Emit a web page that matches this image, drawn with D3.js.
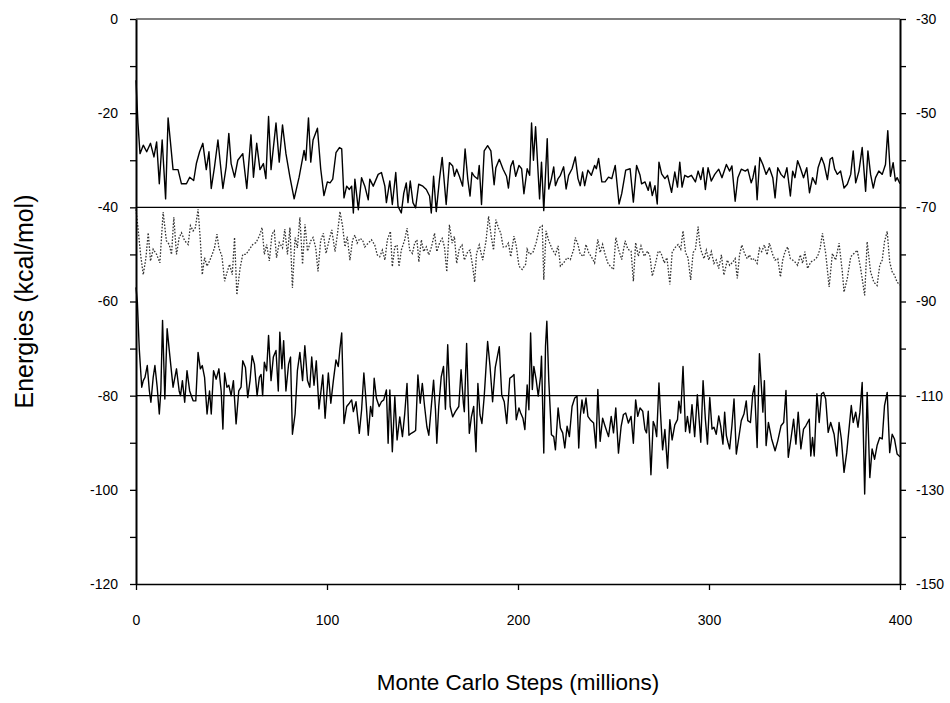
<!DOCTYPE html>
<html>
<head>
<meta charset="utf-8">
<script src="https://cdn.jsdelivr.net/npm/d3@7"></script>
<style>
  html, body { margin: 0; padding: 0; background: #fff; }
  svg { display: block; font-family: "Liberation Sans", Arial, sans-serif; }
</style>
</head>
<body>
<svg id="chart" width="950" height="703"></svg>
<script>
// [step (millions), energy (kcal/mol)]
const upperTrace = [
  [0,-13],[1,-22],[2.1,-28.6],[3.8,-26.8],[5.6,-28.2],[7.6,-26.4],[9.4,-29.3],[10.8,-26.1],[12.2,-35],[13.7,-25.7],
  [15.5,-38.2],[16.8,-21],[18,-26],[19.4,-32],[22,-32],[23.8,-35],[26.4,-35],[28.1,-33.6],[30.2,-34.3],[31.6,-30.7],
  [33.3,-28.2],[35,-26.4],[36.8,-32],[38.2,-28.2],[39.4,-36],[41.1,-31.4],[42.9,-25.7],[45.5,-36],[47.2,-31.4],[48.6,-24.3],
  [49.8,-30.7],[51.6,-33.6],[53.3,-30],[55.9,-28.6],[58,-36],[60.2,-24.6],[61.5,-33.6],[63.2,-26.4],[64.9,-32],[66.7,-30.7],
  [68,-33.9],[69.4,-20.7],[70.7,-32],[73.3,-22.1],[75,-30.4],[76.7,-22.5],[78.5,-28.6],[80.6,-33.6],[82.8,-38.2],[85.4,-33.6],
  [88,-27.9],[88.9,-30],[90.3,-21],[91.5,-30.4],[92.7,-25.7],[95,-23.2],[96.7,-31.8],[98.4,-37.5],[100.2,-34.6],[101.6,-34.8],
  [103,-34],[104.7,-28.4],[106.5,-27.3],[107.7,-27.6],[108.9,-38],[110.3,-35.5],[111.7,-36.2],[112.9,-35.5],[113.8,-41.2],[114.6,-34],
  [116.4,-40.5],[118.1,-33.7],[119.8,-35.5],[121.6,-38.4],[122.4,-34],[124.2,-35.5],[126.8,-33],[128.5,-32.6],[130.3,-35.5],[131.1,-39],
  [132.9,-34.4],[134.2,-39.4],[136,-32.6],[137.2,-39.8],[138.9,-41.2],[140.2,-37],[141.5,-34.8],[142.4,-39],[143.6,-34.4],[145,-39],
  [146.4,-40.1],[148,-35.1],[150.2,-35.5],[152,-36.2],[153.7,-37.6],[154.6,-41.2],[155.8,-33.4],[157.2,-40.9],[158.9,-34],[160.3,-29.4],
  [162.4,-39.4],[164.1,-30.5],[165.8,-31.2],[166.7,-33.4],[167.9,-31.9],[169.3,-33.4],[171,-35.5],[172.3,-27.6],[173.7,-34],[174.9,-37.6],
  [175.9,-32.6],[177.1,-33.4],[178.9,-34],[179.7,-31.1],[180.9,-39.4],[182.3,-28],[184.1,-26.9],[185.8,-28],[187.5,-35.2],[188.4,-31.6],
  [190.2,-29.8],[192.2,-31.9],[194,-33.4],[195,-35.9],[196.2,-31.3],[197.4,-30.1],[198.8,-33.4],[200.5,-31.1],[201.9,-31.8],[203.1,-37.1],
  [204.8,-31.8],[206.1,-33.2],[207.1,-22.1],[208.1,-30],[209.2,-22.9],[210.6,-33.2],[211.3,-38.2],[212.3,-30.4],[213.5,-40.7],[215.3,-25.4],
  [216.1,-36.1],[217.5,-33.9],[218.7,-31.4],[219.6,-35.4],[221,-33.9],[222.2,-33.2],[223.9,-31.4],[225.2,-36.1],[226.5,-33.2],[228.3,-31.8],
  [230,-29.3],[231.4,-33.9],[232.6,-35.4],[233.8,-32.5],[234.9,-35.4],[236.6,-32.1],[238.4,-33.2],[240.1,-31.1],[241,-31.8],[242.2,-29.6],
  [243.9,-34.6],[245.6,-34.6],[247.4,-33.6],[249.1,-33.9],[250.9,-31.1],[252.9,-39.3],[254.3,-37.1],[256.4,-32.1],[258.7,-31.8],[260.4,-38.9],
  [262.1,-31.1],[263.9,-33.2],[264.7,-35],[266.5,-34.6],[268.2,-36.4],[269.1,-34.6],[270.3,-37.5],[271.7,-35.4],[272.9,-39.3],[273.8,-30.4],
  [275.2,-32.9],[276.9,-33.9],[278.3,-33.2],[280.4,-36.8],[282.1,-32.5],[283.5,-35.7],[284.7,-30.4],[285.9,-35.7],[287.3,-33.2],[289,-33.6],
  [290.8,-33.2],[292.9,-34.6],[294.3,-32.3],[295.7,-34.1],[296.9,-31.6],[298.1,-36.2],[299.5,-31.6],[301.2,-34.4],[303,-33],[305.1,-31.9],
  [306.8,-33.7],[309.1,-30.9],[310.8,-32.3],[312,-31.2],[313.7,-38.7],[315.1,-33.7],[316.9,-31.9],[319,-32.3],[320.3,-31.9],[322.1,-34.8],
  [323,-33.7],[324.2,-31.2],[325.2,-38.4],[326.6,-29.4],[328.2,-30.9],[329.9,-33],[331.6,-31.6],[333.4,-33.7],[334.6,-38],[336,-31.6],
  [337.7,-33],[339.4,-33.7],[340.8,-31.6],[342.6,-37.6],[343.8,-32.3],[345,-33.7],[346.4,-30.1],[347.8,-31.6],[349.5,-33.7],[351.2,-31.6],
  [352.6,-36.9],[354.2,-33.7],[355.9,-35.1],[357.1,-31.6],[358.9,-29.4],[360.3,-30.9],[362,-34.1],[363.4,-29.8],[364.6,-29.4],[365.8,-31.9],
  [367.2,-33],[368.9,-32.3],[370.7,-35.9],[372.4,-35.1],[374.2,-33],[375.5,-28],[376.8,-34.8],[378.5,-32.3],[380.2,-27.3],[382,-36.6],
  [383.2,-28],[384.6,-33],[386,-35.9],[387.2,-33.7],[388.9,-32.3],[390.7,-33],[392.4,-30.9],[393.6,-23.7],[395,-33.4],[396.4,-30.5],
  [397.6,-34.4],[398.5,-33.7],[400,-35]
];

const middleTrace = [
  [0,-40.4],[1.2,-45],[2.4,-50],[3.8,-54.3],[5.2,-50.7],[6.4,-45.4],[7.6,-51.4],[9,-48.9],[10.8,-50],[12.5,-51.8],
  [14.2,-41],[15.9,-47.1],[17.4,-47.9],[18.6,-50],[19.8,-42.1],[21.2,-50],[22.6,-46.4],[23.8,-45.4],[25.5,-47.1],[27.3,-47.9],
  [28.5,-43.9],[29.9,-45],[31.1,-44.3],[32.5,-40.4],[33.7,-47.1],[34.7,-54.3],[35.9,-50.7],[37.2,-52.5],[38.5,-51.4],[39.9,-50],
  [41.1,-48.6],[42.4,-45.7],[43.4,-48.6],[45,-50.4],[46.4,-55.7],[47.6,-53.9],[49,-52.1],[50.4,-54.3],[51.6,-46.4],[52.8,-58.6],
  [54.5,-52.9],[55.9,-50],[57.6,-50],[59.4,-48.9],[61.1,-47.9],[62.8,-47.5],[64.6,-46.1],[66,-44.3],[67.2,-50],[68.4,-47.9],
  [69.8,-51.4],[71.2,-45.7],[72.4,-45],[73.6,-50.7],[75,-47.5],[76.7,-48.6],[77.9,-44.6],[79.3,-50],[80.6,-44.3],[81.9,-57.1],
  [83.3,-46.4],[84.5,-48.6],[85.8,-42.1],[87.2,-52.1],[88.5,-43.6],[89.8,-49.3],[91.5,-47.1],[92.7,-46.4],[94.1,-48.6],[95.3,-53.6],
  [96.7,-47],[98.1,-45.5],[99.5,-49.8],[101.3,-46.6],[102.5,-44.8],[104.2,-49.4],[105.4,-45.9],[106.8,-40.9],[108.2,-44.1],[109.4,-48.4],
  [110.6,-46.2],[112,-51.2],[113.4,-46.9],[114.6,-45.9],[115.8,-47.6],[117.2,-46.6],[118.6,-46.9],[119.8,-48.4],[121.6,-47.6],[123.3,-46.9],
  [125,-48],[126.3,-50.1],[127.6,-50.5],[129,-49.1],[130.3,-51.2],[131.6,-46.9],[133.2,-45.1],[134.2,-52.6],[135.5,-48.4],[136.7,-48],
  [137.7,-52.6],[138.9,-49.1],[140.7,-46.9],[141.9,-44.4],[143.3,-49.1],[144.7,-49.8],[145.9,-47.6],[147.1,-46.9],[148.1,-51.6],[149.4,-46.9],
  [150.6,-49.4],[152,-48.4],[153.3,-50.1],[154.7,-48.4],[156.3,-45.5],[157.5,-49.4],[158.9,-47.6],[160.3,-46.6],[161.5,-48.4],[162.7,-53.7],
  [164.1,-43.7],[165.5,-47.6],[166.7,-46.2],[167.9,-51.9],[169.3,-48.7],[170.7,-48],[171.9,-51.2],[173.7,-49.4],[174.9,-49.1],[176.3,-52.6],
  [177.3,-55.9],[178.3,-49.8],[179.7,-48],[181.5,-51.2],[183.2,-47.3],[184.6,-41.9],[186,-46.2],[187.2,-49.1],[188.4,-42.6],[189.8,-44.4],
  [191,-45.5],[192.2,-48.4],[193.6,-48.4],[195,-47.6],[196.2,-50.5],[197.9,-46.1],[199.1,-48.2],[200.5,-52.5],[202.2,-53.2],[204,-52.1],
  [204.8,-48.9],[206.1,-50],[207.8,-49.6],[209.5,-47.5],[211.3,-44.3],[212.7,-43.9],[213.5,-55.4],[214.7,-45],[216.1,-47.1],[217.9,-48.9],
  [219.6,-50],[221,-48.2],[222.2,-52.5],[223.9,-51.8],[225.7,-50.7],[227.4,-51.1],[229.2,-48.9],[230,-46.4],[231.4,-47.9],[232.6,-50],
  [234.4,-50.4],[235.6,-47.9],[237,-49.6],[238.7,-50.7],[240.1,-51.8],[241.8,-46.8],[243,-49.6],[244.3,-47.9],[245.6,-50],[247,-51.8],
  [248.3,-52.5],[250,-53.2],[251.2,-46.4],[252.6,-48.9],[254.3,-51.1],[256.1,-47.1],[257.5,-48.9],[259.2,-49.3],[260.4,-55.7],[261.6,-47.5],
  [263,-50.4],[264.4,-48.2],[266.1,-50.4],[267.9,-49.3],[269.1,-50.4],[270.3,-54.6],[271.7,-52.5],[273.4,-49.3],[274.8,-49.6],[276.6,-51.8],
  [278,-50.7],[279.5,-56.4],[280.7,-49.6],[282.1,-48.6],[283.8,-47.9],[285.2,-48.9],[286.4,-45],[287.7,-49.6],[289,-50.7],[290.4,-55.4],
  [291.7,-49.6],[292.9,-48.9],[294.3,-44.1],[295.2,-48],[296,-49.4],[297.4,-50.9],[298.6,-49.1],[299.9,-51.2],[301.2,-49.4],[302.6,-51.9],
  [303.8,-51.2],[305.1,-53],[306.5,-50.1],[307.8,-54.4],[309.6,-51.2],[310.8,-52.3],[312.5,-51.6],[313.7,-50.9],[314.8,-55.1],[316,-50.1],
  [317.2,-48],[318.6,-49.8],[320,-50.9],[321.2,-50.1],[322.4,-51.2],[323.8,-50.9],[325.2,-51.9],[326.4,-48.7],[327.6,-49.4],[329,-48],
  [330.4,-50.1],[331.6,-47.6],[333.4,-50.1],[334.6,-51.2],[336,-50.9],[337.4,-54.8],[338.6,-51.2],[339.8,-49.4],[341.2,-48.4],[342.6,-50.9],
  [343.8,-51.2],[345,-51.6],[346.4,-52.3],[347.8,-50.1],[349,-51.9],[350.2,-49.4],[351.6,-53],[353.3,-51.6],[355.1,-51.2],[356.8,-50.5],
  [358.2,-48.7],[359.4,-45.5],[361.1,-49.8],[362.9,-56.9],[364.6,-49.8],[366.3,-51.2],[368.1,-47.6],[369.8,-53.7],[370.7,-58],[372.4,-55.1],
  [374.2,-50.5],[375.9,-49.8],[377.6,-49.1],[379.4,-53],[381.5,-58.7],[382.8,-47.3],[384.6,-53.7],[386.3,-55.9],[388,-56.6],[389.4,-52.3],
  [390.7,-51.2],[391.9,-47.3],[393.3,-45.1],[394.6,-51.6],[395.9,-53.7],[397.1,-54.4],[398.5,-55.9],[400,-56.5]
];

const lowerTrace = [
  [0,-57],[0.7,-60],[1.7,-70],[3,-78.2],[3.8,-76.8],[4.7,-76.1],[5.9,-73.6],[7,-79],[7.8,-81.4],[9,-76.1],
  [9.9,-73.6],[11.1,-78.2],[12.2,-83.9],[13,-79],[13.9,-64],[15.1,-80.7],[16.3,-65.8],[17.7,-71.5],[19.4,-78.2],[21.2,-74.3],
  [22.6,-79],[23.3,-80],[24.3,-76.8],[25.5,-81.4],[26.7,-74.7],[28.1,-79],[29.9,-81.1],[31.3,-81.1],[32.5,-70.8],[33.7,-74.3],
  [34.7,-73.6],[35.9,-76.1],[37.2,-83.9],[38.5,-79],[39.4,-83.9],[40.6,-74.7],[42,-76.5],[43.4,-74.3],[44.6,-79],[45.5,-87.1],
  [46.4,-75.2],[47.6,-78.2],[48.6,-77.8],[49.8,-80],[51,-76.8],[52.4,-86],[53.8,-79],[55,-78.2],[55.9,-72.6],[57.3,-74],
  [58.5,-80.4],[59.7,-76.8],[60.8,-71.5],[62,-73.3],[63.4,-80],[64.6,-76.1],[65.5,-75.5],[66.3,-80],[67.2,-72.9],[68.4,-74.7],
  [69.4,-67.2],[70.7,-76.8],[71.9,-71.8],[73.3,-70.4],[74.5,-79],[75.3,-66.5],[76.4,-74.3],[77.3,-68.3],[78.5,-79],[79.9,-73.3],
  [80.9,-71.8],[81.9,-88.2],[83.3,-83.9],[84.5,-74.7],[85.8,-70.8],[87.2,-76.8],[88.4,-69.4],[89.8,-76.8],[91,-78.2],[92,-71.8],
  [93.2,-77.8],[94.4,-72.6],[95.8,-82.8],[97.8,-75.6],[99,-84.8],[100.7,-75.2],[102,-81.6],[103.3,-76.9],[104.7,-72.4],[105.9,-73.8],
  [106.8,-69.9],[107.7,-66.7],[108.9,-85.9],[110.3,-82.3],[111.7,-81.6],[112.9,-80.9],[113.8,-83.4],[115.2,-81.3],[116.9,-88],[118.1,-83.1],
  [119.3,-75.2],[120.4,-80.9],[121.6,-88.4],[122.8,-82.3],[123.8,-84.4],[124.7,-76.3],[125.9,-80.6],[127.3,-82.3],[128.5,-81.3],[129.7,-80.9],
  [131.1,-78.8],[132,-90.1],[132.9,-78.8],[134.2,-91.9],[135.5,-80.2],[136.7,-89.4],[138.1,-84.5],[139.5,-88.7],[140.7,-83.8],[141.9,-77.4],
  [142.9,-88.4],[144.1,-88],[145.4,-87.7],[146.4,-87.4],[147.6,-75.6],[148.8,-81.6],[149.9,-77.4],[151.1,-82.3],[152.3,-86.6],[153.3,-88.4],
  [154.6,-82.3],[155.8,-76.7],[156.8,-83],[157.5,-90.1],[158.5,-82.3],[159.8,-76],[161,-73.8],[162,-82.9],[163.2,-69.2],[164.5,-82.3],
  [165.8,-84.5],[167.2,-83.4],[169,-82.3],[170.2,-74.5],[171.4,-81.6],[171.9,-83.4],[173.1,-68.9],[174.5,-88],[175.6,-84.5],[176.8,-82.3],
  [178,-91.9],[179,-77.4],[180.1,-84.1],[181.1,-85.9],[182.3,-80.2],[184.1,-68.5],[185.3,-73.5],[186.7,-81.3],[188.1,-74],[190.2,-69.6],
  [191.5,-79.9],[192.8,-81.3],[194.1,-85.9],[195.7,-76.3],[197,-75.9],[197.9,-75.5],[199.1,-85.1],[200.5,-82.6],[201.4,-83.7],[202.6,-84.8],
  [203.6,-87.2],[204.8,-77.7],[205.7,-83],[206.6,-66.7],[207.5,-78.7],[208.3,-73.8],[209.5,-76.6],[210.6,-80.1],[211.8,-75.9],[212.3,-71.6],
  [213.5,-92.2],[214.4,-69.5],[215.1,-64.2],[216.1,-76.6],[217.5,-88.3],[218.7,-88.7],[219.6,-91.5],[221,-82.6],[222.2,-86.9],[223.4,-87.9],
  [224.5,-91.1],[225.7,-86.5],[226.9,-88.7],[228.3,-82.3],[229.7,-80.5],[230.9,-80.1],[231.8,-91.1],[232.6,-84.4],[233.5,-80.9],[234.4,-83.7],
  [235.6,-80.5],[236.6,-84.4],[237.8,-85.1],[239.6,-85.8],[240.8,-91.1],[241.8,-78.7],[243,-89.7],[244.3,-84.8],[245.6,-86.5],[247.4,-88.7],
  [248.8,-84.4],[250,-87.9],[251.2,-82.6],[252.6,-92.2],[254,-86.5],[255.2,-84],[256.4,-83.7],[257.8,-85.8],[259.2,-84.4],[260.4,-90.1],
  [261.6,-80.9],[262.7,-84.4],[263.9,-82.6],[265.3,-83.3],[266.5,-87.2],[267.3,-87.9],[268.2,-83.3],[269.6,-96.8],[270.8,-85.5],[271.7,-86.5],
  [272.6,-88.7],[273.8,-77.3],[274.8,-85.1],[275.7,-91.5],[276.9,-87.2],[278.3,-95.4],[279.5,-85.1],[280.7,-89.4],[282.1,-86.2],[283.5,-85.1],
  [284.2,-81.2],[285.2,-83.7],[286.4,-73.8],[287.7,-87.6],[288.7,-84.4],[289.9,-87.9],[291.1,-81.9],[292.5,-88.7],[293.9,-79.8],[295.7,-89.9],
  [296.9,-76.8],[298.1,-85],[299.2,-90.3],[300.4,-80.4],[301.6,-87.1],[302.6,-86.7],[303.8,-88.2],[305.1,-84.3],[306.1,-86.4],[307.3,-90.3],
  [308.2,-83.5],[309.1,-88.5],[309.9,-89.9],[310.8,-91.3],[312,-86.4],[313.1,-80.7],[314.3,-92.4],[315.5,-89.2],[316.9,-85.3],[318.3,-83.9],
  [319.5,-81.1],[320.3,-85.3],[321.7,-85.7],[322.9,-79.6],[323.8,-77.9],[325.2,-91],[326.4,-71.1],[327.3,-77.2],[328.2,-83.5],[329,-76.8],
  [329.9,-90.6],[331.1,-85.7],[332.8,-89.2],[334.6,-91.7],[336,-89.6],[337.7,-86.4],[339.1,-85.7],[340.3,-78.9],[341.5,-93.1],[342.9,-89.2],
  [344.3,-85],[345.5,-90.3],[346.7,-83.5],[348.1,-91.3],[349.5,-87.1],[350.7,-86.4],[352.5,-85],[353.3,-92.8],[354.2,-88.9],[355.1,-92.8],
  [356.5,-79.6],[357.7,-85.7],[358.9,-79.6],[360,-79.3],[361.1,-80.7],[362.4,-87.8],[363.7,-85.7],[365.5,-88.2],[366.9,-92.8],[368.1,-85.7],
  [369.3,-89.2],[370.7,-96.3],[372.1,-92.1],[373.3,-87.1],[374.5,-82.1],[375.5,-85.7],[376.8,-83.5],[378,-86.7],[379,-83.5],[380.2,-77.2],
  [381.5,-100.9],[382.8,-79.3],[384.2,-97.4],[385.4,-91.3],[386.7,-93.5],[388,-90.6],[389.4,-88.9],[390.7,-89.2],[391.9,-82.1],[393.3,-79.3],
  [394.6,-92.1],[395.9,-88.2],[397.1,-89.2],[398.5,-92.4],[400,-93]
];

const referenceLevels = [-40, -80];
const stepTicks = [0, 100, 200, 300, 400];
const leftTicks = d3.range(-120, 1, 10);
const rightTicks = d3.range(-150, -29, 10);

const svg = d3.select('#chart');

var x = d3.scaleLinear().domain([0, 400]).range([136, 900]);
var yLeft = d3.scaleLinear().domain([-120, 0]).range([584, 19]);
var yRight = d3.scaleLinear().domain([-150, -30]).range([584, 19]);

var line = d3.line()
    .x(function (d) { return x(d[0]); })
    .y(function (d) { return yLeft(d[1]); })
    .curve(d3.curveLinear);

// top frame line
svg.append('line')
    .attr('x1', x(0)).attr('x2', x(400))
    .attr('y1', yLeft(0)).attr('y2', yLeft(0))
    .attr('stroke', '#000').attr('stroke-width', 1.2);

// reference lines
svg.append('g').selectAll('line')
    .data(referenceLevels)
    .join('line')
    .attr('x1', x(0)).attr('x2', x(400))
    .attr('y1', function (d) { return yLeft(d); })
    .attr('y2', function (d) { return yLeft(d); })
    .attr('stroke', '#000').attr('stroke-width', 1.3);

svg.append('path')
    .datum(middleTrace)
    .attr('d', line)
    .attr('fill', 'none')
    .attr('stroke', '#333')
    .attr('stroke-width', 1.3)
    .attr('stroke-dasharray', '1.6,1.6');

[upperTrace, lowerTrace].forEach(function (trace) {
    svg.append('path')
        .datum(trace)
        .attr('d', line)
        .attr('fill', 'none')
        .attr('stroke', '#000')
        .attr('stroke-width', 1.4)
        .attr('stroke-linejoin', 'round');
});

function styleAxis(g, width) {
    g.select('.domain').attr('stroke-width', width);
    g.selectAll('.tick line').attr('stroke-width', 1.3);
    g.selectAll('.tick text')
        .attr('font-family', '"Liberation Sans", Arial, sans-serif')
        .attr('font-size', 14)
        .attr('fill', '#000');
}

svg.append('g')
    .attr('transform', 'translate(' + x(0) + ',0)')
    .call(d3.axisLeft(yLeft).tickValues(leftTicks).tickSize(6).tickSizeOuter(0).tickPadding(12)
        .tickFormat(function (d) { return d % 20 === 0 ? d : ''; }))
    .call(function (g) { styleAxis(g, 2); });

svg.append('g')
    .attr('transform', 'translate(' + x(400) + ',0)')
    .call(d3.axisRight(yRight).tickValues(rightTicks).tickSize(6).tickSizeOuter(0).tickPadding(10)
        .tickFormat(function (d) { return (d + 30) % 20 === 0 ? d : ''; }))
    .call(function (g) { styleAxis(g, 2); });

svg.append('g')
    .attr('transform', 'translate(0,' + yLeft(-120) + ')')
    .call(d3.axisBottom(x).tickValues(stepTicks).tickSize(6).tickSizeOuter(0).tickPadding(25)
        .tickFormat(d3.format('d')))
    .call(function (g) { styleAxis(g, 1.6); });

svg.append('text')
    .attr('transform', 'translate(33,' + yLeft(-60) + ') rotate(-90)')
    .attr('text-anchor', 'middle')
    .attr('font-size', 25)
    .attr('fill', '#000')
    .text('Energies (kcal/mol)');

svg.append('text')
    .attr('x', x(200))
    .attr('y', 690)
    .attr('text-anchor', 'middle')
    .attr('font-size', 22.5)
    .attr('fill', '#000')
    .text('Monte Carlo Steps (millions)');
</script>
</body>
</html>
